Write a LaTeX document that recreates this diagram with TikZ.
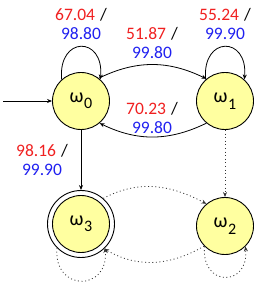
\documentclass[tikz,border=0pt]{standalone}
\usepackage{fontspec}
\setmainfont{Carlito}
\usetikzlibrary{arrows.meta}
\definecolor{lred}{RGB}{240,32,32}
\definecolor{lblue}{RGB}{32,32,240}
\definecolor{stfill}{RGB}{255,255,160}
\newcommand{\om}[1]{{\fontsize{20}{20}\selectfont ω\hspace{0.5pt}\raisebox{-6.5pt}{\fontsize{16}{16}\selectfont #1}}}
\newcommand{\lab}[2]{\textcolor{lred}{#1}\hspace{1pt} /\\\textcolor{lblue}{#2}}
\tikzset{
  x=1pt, y=1pt,
  >={Stealth[length=5pt,width=4pt]},
  every path/.style={line width=0.8pt},
  statebox/.style={circle, draw, line width=0.9pt, fill=stfill, minimum size=57pt, inner sep=0pt},
  ringbox/.style={circle, draw, line width=0.9pt, minimum size=67pt, inner sep=0pt},
  labbox/.style={align=center, font=\fontsize{17.5}{19.5}\selectfont, inner sep=0pt},
  dotline/.style={dash pattern=on 1pt off 2.6pt, draw=black!80}
}
\begin{document}
\begin{tikzpicture}
\useasboundingbox (0,0) rectangle (268,287);
\node[statebox] (w0) at (81,186) {\om{0}};
\node[statebox] (w1) at (225,186) {\om{1}};
\node[statebox] (w3i) at (81,63) {\om{3}};
\node[ringbox] (w3) at (81,63) {};
\node[statebox] (w2) at (225,61) {\om{2}};
\coordinate (start) at (3,186);

\node[labbox] (l1) at (81,263) {\lab{67.04}{98.80}};
\node[labbox] (l2) at (225,263) {\lab{55.24}{99.90}};
\node[labbox] (l3) at (152,244) {\lab{51.87}{99.80}};
\node[labbox] (l4) at (152,169) {\lab{70.23}{99.80}};
\node[labbox] (l5) at (42,127) {\lab{98.16}{99.90}};

\draw[->] (start) -- (w0);
\draw[->] (w0.132) .. controls +(95:44) and +(85:44) .. (w0.48);
\draw[->] (w1.132) .. controls +(95:44) and +(85:44) .. (w1.48);
\draw[->] (w0.52) to[out=26,in=154] (w1.130);
\draw[->] (w1.230) to[out=206,in=-26] (w0.-50);
\draw[->] (w0) -- (w3);
\draw[dotline,->] (w1) -- (w2);
\draw[dotline,->] (w3.49) to[out=28,in=152] (w2.130);
\draw[dotline,->] (w2.224) to[out=210,in=-30] (w3.313);
\draw[dotline,->] (w3.225) .. controls +(265:44) and +(275:44) .. (w3.315);
\draw[dotline,->] (w2.225) .. controls +(265:41) and +(275:41) .. (w2.315);
\end{tikzpicture}
\end{document}
